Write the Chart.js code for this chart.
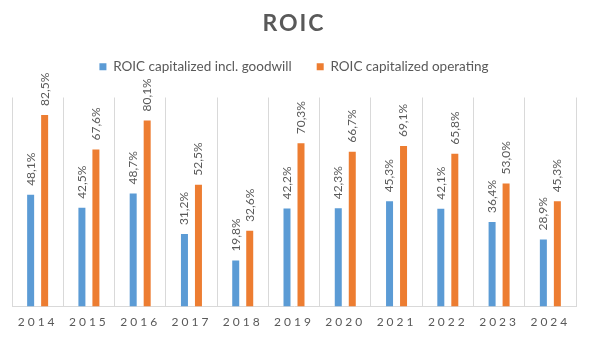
<!DOCTYPE html>
<html>
<head>
<meta charset="utf-8">
<script src="https://cdn.jsdelivr.net/npm/chart.js"></script>
<style>
  html, body { margin: 0; padding: 0; background: #fff; }
  #wrap { width: 590px; height: 339px; }
</style>
</head>
<body>
<div id="wrap"><canvas id="grafico"></canvas></div>
<script>
// datos del gráfico
const years = ['2014', '2015', '2016', '2017', '2018', '2019', '2020', '2021', '2022', '2023', '2024'];
const roicGoodwill = [48.1, 42.5, 48.7, 31.2, 19.8, 42.2, 42.3, 45.3, 42.1, 36.4, 28.9];
const roicOperating = [82.5, 67.6, 80.1, 52.5, 32.6, 70.3, 66.7, 69.1, 65.8, 53.0, 45.3];

const gris = '#595959';
const fuente = 'Lato, "Open Sans", sans-serif';

// etiquetas verticales encima de cada barra
const etiquetasBarras = {
  id: 'etiquetasBarras',
  afterDatasetsDraw(chart) {
    const ctx = chart.ctx;
    ctx.save();
    ctx.fillStyle = gris;
    ctx.font = '12px ' + fuente;
    ctx.textAlign = 'left';
    ctx.textBaseline = 'middle';
    chart.data.datasets.forEach((ds, i) => {
      chart.getDatasetMeta(i).data.forEach((bar, j) => {
        const txt = ds.data[j].toFixed(1).replace('.', ',') + '%';
        ctx.save();
        ctx.translate(bar.x, bar.y - 9);
        ctx.rotate(-Math.PI / 2);
        ctx.fillText(txt, 0, 0);
        ctx.restore();
      });
    });
    ctx.restore();
  }
};

// espaciado de letras en título y años, y aire debajo de la leyenda
const espaciado = {
  id: 'espaciado',
  afterInit(chart) {
    const leg = chart.legend;
    if (leg && !leg._espaciado) {
      const origFit = leg.fit;
      leg.fit = function () {
        origFit.call(this);
        this.height += 14;
      };
      leg._espaciado = true;
    }
  },
  afterLayout(chart) {
    const x = chart.scales.x;
    if (x && !x._espaciado) {
      const orig = x.drawLabels;
      x.drawLabels = function (area) {
        this.ctx.save();
        this.ctx.letterSpacing = '3px';
        orig.call(this, area);
        this.ctx.restore();
      };
      x._espaciado = true;
    }
    const t = chart.titleBlock;
    if (t && !t._espaciado) {
      const origT = t.draw;
      t.draw = function () {
        this.ctx.save();
        this.ctx.letterSpacing = '2px';
        origT.call(this);
        this.ctx.restore();
      };
      t._espaciado = true;
    }
  }
};

new Chart(document.getElementById('grafico'), {
  type: 'bar',
  data: {
    labels: years,
    datasets: [
      {
        label: 'ROIC capitalized incl. goodwill',
        data: roicGoodwill,
        backgroundColor: '#5B9BD5',
        categoryPercentage: 0.546,
        barPercentage: 0.5
      },
      {
        label: 'ROIC capitalized operating',
        data: roicOperating,
        backgroundColor: '#ED7D31',
        categoryPercentage: 0.546,
        barPercentage: 0.5
      }
    ]
  },
  options: {
    responsive: true,
    maintainAspectRatio: false,
    animation: false,
    layout: { padding: { left: 12, right: 14, top: 0, bottom: 2 } },
    plugins: {
      title: {
        display: true,
        text: 'ROIC',
        color: gris,
        font: { family: fuente, size: 23, weight: 'bold', lineHeight: 1 },
        padding: { top: 12, bottom: 0 }
      },
      legend: {
        display: true,
        labels: {
          color: gris,
          font: { family: fuente, size: 13.5 },
          boxWidth: 7,
          boxHeight: 7,
          padding: 25
        }
      },
      tooltip: { enabled: false }
    },
    scales: {
      x: {
        grid: { color: '#d9d9d9', offset: true, drawTicks: false },
        border: { color: '#d9d9d9' },
        ticks: { color: gris, font: { family: fuente, size: 12 }, padding: 8 }
      },
      y: {
        display: false,
        min: 0,
        max: 90
      }
    }
  },
  plugins: [etiquetasBarras, espaciado]
});
</script>
</body>
</html>
